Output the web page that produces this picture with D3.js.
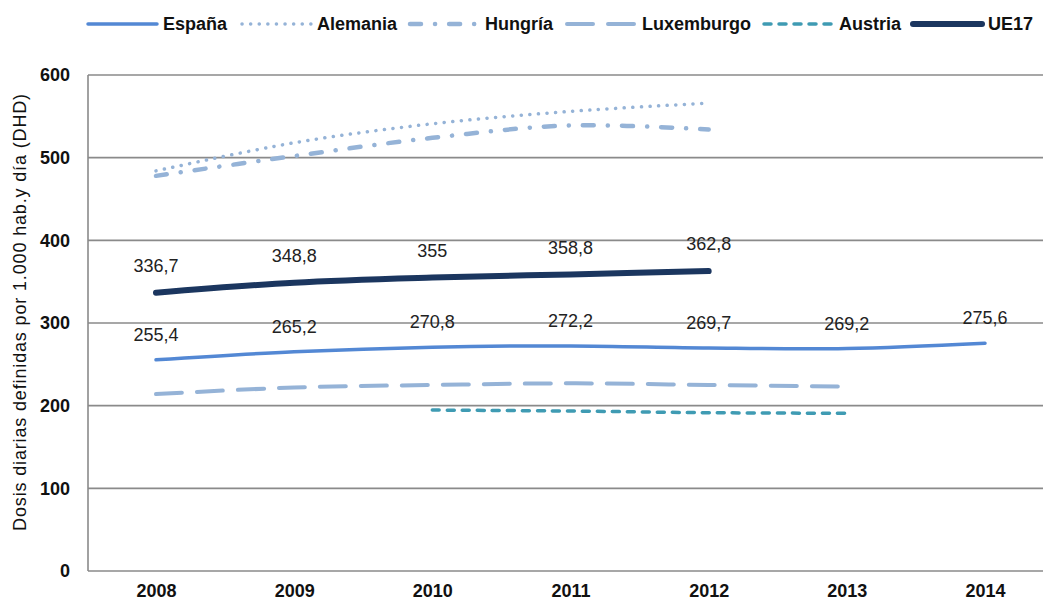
<!DOCTYPE html>
<html lang="es">
<head>
<meta charset="utf-8">
<script src="https://cdn.jsdelivr.net/npm/d3@7"></script>
<style>
  html, body { margin: 0; padding: 0; background: #fff; }
  svg { display: block; font-family: "Liberation Sans", Arial, Helvetica, sans-serif; }
</style>
</head>
<body>
<svg id="chart" width="1043" height="603"></svg>
<script>
// Consumo en dosis diarias definidas por 1.000 habitantes y día
const years = [2008, 2009, 2010, 2011, 2012, 2013, 2014];
const yTicks = [0, 100, 200, 300, 400, 500, 600];

const espana     = [255.4, 265.2, 270.8, 272.2, 269.7, 269.2, 275.6];
const alemania   = [484, 518, 541, 556, 566, null, null];
const hungria    = [478, 502, 524, 539, 534, null, null];
const luxemburgo = [214, 222, 225, 227, 225, 223, null];
const austria    = [null, null, 194.7, 193.5, 191.5, 190.8, null];
const ue17       = [336.7, 348.8, 355, 358.8, 362.8, null, null];

const seriesNames = ["España", "Alemania", "Hungría", "Luxemburgo", "Austria", "UE17"];

const series = [
  { name: seriesNames[0], values: espana,     color: "#5388D4", width: 3.5, dash: null,           labels: true,  labelOffset: 25 },
  { name: seriesNames[1], values: alemania,   color: "#95B3D7", width: 3.5, dash: "0.1,8.5",      labels: false },
  { name: seriesNames[2], values: hungria,    color: "#95B3D7", width: 4.5, dash: "11,14,0.1,14", labels: false },
  { name: seriesNames[3], values: luxemburgo, color: "#95B3D7", width: 4,   dash: "26,15",        labels: false },
  { name: seriesNames[4], values: austria,    color: "#3F9BB3", width: 3.5, dash: "7,8",          labels: false },
  { name: seriesNames[5], values: ue17,       color: "#1B365F", width: 6,   dash: null,           labels: true,  labelOffset: 27 }
];

// Legend entry positions (left end of each line sample)
const legendX = [88, 242, 410, 567, 764, 913];

const svg = d3.select("#chart");

const x = d3.scalePoint().domain(years).range([156, 985]);
const y = d3.scaleLinear().domain([0, 600]).range([571, 75]);
const plotLeft = 88, plotRight = 1060;

// Horizontal gridlines
svg.append("g")
  .selectAll("line")
  .data(yTicks)
  .join("line")
  .attr("x1", plotLeft).attr("x2", plotRight)
  .attr("y1", d => y(d)).attr("y2", d => y(d))
  .attr("stroke", "#8a8a8a")
  .attr("stroke-width", 1.6);

// Vertical axis line
svg.append("line")
  .attr("x1", plotLeft).attr("x2", plotLeft)
  .attr("y1", y(600)).attr("y2", y(0))
  .attr("stroke", "#8a8a8a")
  .attr("stroke-width", 1.6);

// Y axis tick labels
const yAxis = d3.axisLeft(y).tickValues(yTicks).tickSize(0).tickPadding(0).tickFormat(d3.format("d"));
const gy = svg.append("g").attr("transform", "translate(70,0)").call(yAxis);
gy.select(".domain").remove();
gy.selectAll("text")
  .attr("font-family", "'Liberation Sans', Arial, sans-serif")
  .attr("font-size", 18).attr("font-weight", "bold").attr("fill", "#111");

// X axis tick labels
const xAxis = d3.axisBottom(x).tickSize(0).tickPadding(0).tickFormat(d3.format("d"));
const gx = svg.append("g").attr("transform", "translate(0,584)").call(xAxis);
gx.select(".domain").remove();
gx.selectAll("text")
  .attr("font-family", "'Liberation Sans', Arial, sans-serif")
  .attr("font-size", 18).attr("font-weight", "bold").attr("fill", "#111");

// Y axis title
svg.append("text")
  .attr("transform", "translate(26,312) rotate(-90)")
  .attr("text-anchor", "middle")
  .attr("font-size", 18)
  .attr("letter-spacing", "0.85px")
  .attr("fill", "#111")
  .text("Dosis diarias definidas por 1.000 hab.y día (DHD)");

// Series lines
const line = d3.line()
  .defined(d => d.v != null)
  .x(d => x(d.year))
  .y(d => y(d.v))
  .curve(d3.curveCatmullRom.alpha(0.5));

const lineGroup = svg.append("g");
series.forEach(s => {
  const pts = years.map((yr, i) => ({ year: yr, v: s.values[i] }));
  lineGroup.append("path")
    .datum(pts)
    .attr("d", line)
    .attr("fill", "none")
    .attr("stroke", s.color)
    .attr("stroke-width", s.width)
    .attr("stroke-linecap", "round")
    .attr("stroke-linejoin", "round")
    .attr("stroke-dasharray", s.dash);
});

// Data labels
const fmt = v => String(v).replace(".", ",");
series.filter(s => s.labels).forEach(s => {
  const pts = years.map((yr, i) => ({ year: yr, v: s.values[i] })).filter(d => d.v != null);
  svg.append("g")
    .selectAll("text")
    .data(pts)
    .join("text")
    .attr("x", d => x(d.year))
    .attr("y", d => y(d.v) - s.labelOffset)
    .attr("dy", "0.35em")
    .attr("text-anchor", "middle")
    .attr("font-size", 18)
    .attr("fill", "#222")
    .text(d => fmt(d.v));
});

// Legend
const ly = 24;
const legend = svg.append("g");
series.forEach((s, i) => {
  const lx = legendX[i];
  legend.append("line")
    .attr("x1", lx).attr("x2", lx + 69)
    .attr("y1", ly).attr("y2", ly)
    .attr("stroke", s.color)
    .attr("stroke-width", s.width)
    .attr("stroke-linecap", "round")
    .attr("stroke-dasharray", s.dash);
  legend.append("text")
    .attr("x", lx + 75)
    .attr("y", ly)
    .attr("dy", "0.35em")
    .attr("font-size", 18)
    .attr("font-weight", "bold")
    .attr("fill", "#111")
    .text(s.name);
});
</script>
</body>
</html>
